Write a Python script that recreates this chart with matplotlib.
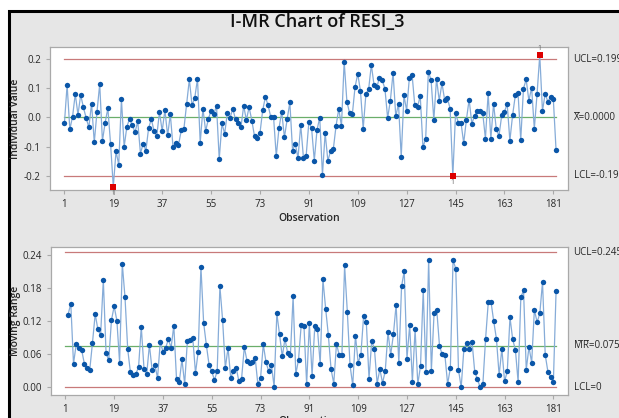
import numpy as np
import matplotlib
matplotlib.use("Agg")
import matplotlib.pyplot as plt
from matplotlib.patches import Rectangle

plt.rcParams['font.family'] = ['Open Sans', 'DejaVu Sans']

# ---- data ----
individual_values = [
    -0.021, 0.111, -0.041, 0.002, 0.080, 0.009, 0.077, 0.034, -0.002, -0.034,
    0.047, -0.086, 0.019, 0.114, -0.081, -0.018, 0.031, -0.091, -0.238, -0.117,
    -0.162, 0.062, -0.101, -0.032, -0.005, -0.027, -0.051, -0.014, -0.124, -0.090,
    -0.114, -0.037, -0.006, -0.047, -0.064, 0.018, -0.047, 0.025, -0.062, 0.010,
    -0.102, -0.087, -0.096, -0.045, -0.039, 0.045, 0.130, 0.041, 0.067, 0.132,
    -0.087, 0.030, -0.047, -0.006, 0.023, 0.010, 0.040, -0.143, -0.021, -0.056,
    0.016, -0.001, 0.029, -0.007, -0.018, -0.034, 0.039, -0.009, 0.035, -0.011,
    -0.065, -0.071, -0.054, 0.024, 0.070, 0.041, 0.000, 0.001, -0.133, -0.037,
    0.019, -0.069, -0.007, 0.051, -0.114, -0.090, -0.140, -0.026, -0.138, -0.132,
    -0.016, -0.037, -0.148, -0.043, -0.001, -0.197, -0.054, -0.149, -0.116, -0.109,
    -0.030, 0.029, -0.030, 0.191, 0.054, 0.014, 0.010, 0.104, 0.149, 0.090,
    -0.039, 0.080, 0.096, 0.180, 0.110, 0.103, 0.136, 0.128, 0.098, -0.002,
    0.057, 0.153, 0.003, 0.047, -0.136, 0.075, 0.023, 0.136, 0.146, 0.041,
    0.035, 0.074, -0.102, -0.074, 0.157, 0.127, -0.008, 0.132, 0.057, 0.117,
    0.059, 0.065, 0.030, -0.201, 0.014, -0.018, -0.018, -0.088, -0.008, 0.061,
    -0.022, 0.006, 0.021, 0.021, 0.015, -0.073, 0.082, -0.073, 0.047, -0.041,
    -0.063, 0.007, 0.018, 0.047, -0.080, 0.007, 0.075, 0.085, -0.078, 0.098,
    0.130, 0.057, 0.102, -0.039, 0.079, 0.213, 0.022, 0.081, 0.053, 0.071,
    0.062, -0.112,
]
x_ticks = [1, 19, 37, 55, 73, 91, 109, 127, 145, 163, 181]
i_yticks = [-0.2, -0.1, 0.0, 0.1, 0.2]
i_ytick_labels = ["-0.2", "-0.1", "0.0", "0.1", "0.2"]
mr_yticks = [0.00, 0.06, 0.12, 0.18, 0.24]
mr_ytick_labels = ["0.00", "0.06", "0.12", "0.18", "0.24"]

i_ucl, i_center, i_lcl = 0.1997, 0.0, -0.1997
mr_ucl, mr_center, mr_lcl = 0.2454, 0.07511, 0.0
i_labels = ["UCL=0.1997", "X\u0305=0.0000", "LCL=-0.1997"]
mr_labels = ["UCL=0.2454", "M\u0305R\u0305=0.07511", "LCL=0"]

title = "I-MR Chart of RESI_3"

# ---- derived ----
obs = np.arange(1, len(individual_values) + 1)
vals = np.array(individual_values)
mr = np.abs(np.diff(vals))          # moving range of span 2
mr_obs = obs[1:]

W, H = 619, 418
fig = plt.figure(figsize=(W / 100, H / 100), dpi=100)
fig.patch.set_facecolor("white")

# background axes: grey panel with black frame
bg = fig.add_axes([0, 0, 1, 1], zorder=-10)
bg.set_xlim(0, W)
bg.set_ylim(H, 0)
bg.axis("off")
bg.add_patch(Rectangle((9, 11), W + 20, H + 20, facecolor="#e6e6e6", edgecolor="black", linewidth=2.2))

def px_axes(left, top, right, bottom):
    return fig.add_axes([left / W, 1 - bottom / H, (right - left) / W, (bottom - top) / H])

BLUE = "#0a56a8"
LINE = "#86acd8"
RED_LINE = "#c87a7a"
GREEN = "#6aae6a"
SPINE = "#a9a9a9"
TXT = "#262626"

def style(ax):
    ax.set_facecolor("white")
    for s in ax.spines.values():
        s.set_color(SPINE)
        s.set_linewidth(0.9)
    ax.tick_params(axis="both", colors=SPINE, labelcolor=TXT, labelsize=7, length=3, width=0.8)
    ax.set_xticks(x_ticks)
    ax.set_xticklabels([str(t) for t in x_ticks])
    ax.set_xlim(-4.3, 186.4)

# ---- Individual chart ----
ax1 = px_axes(50, 47, 568, 190)
style(ax1)
ax1.set_ylim(-0.249, 0.241)
ax1.set_yticks(i_yticks)
ax1.set_yticklabels(i_ytick_labels)
for yv, col in [(i_ucl, RED_LINE), (i_lcl, RED_LINE), (i_center, GREEN)]:
    ax1.plot([obs[0], obs[-1]], [yv, yv], color=col, lw=0.9, zorder=1)
ax1.plot(obs, vals, color=LINE, lw=0.9, zorder=2)
out = (vals > i_ucl) | (vals < i_lcl)
ax1.scatter(obs[~out], vals[~out], s=15, color=BLUE, zorder=3, linewidths=0)
ax1.scatter(obs[out], vals[out], s=17, marker="s", color="#dd0000", zorder=4, linewidths=0)
for xo, yo in zip(obs[out], vals[out]):
    off = 0.022 if yo > 0 else -0.022
    ax1.text(xo, yo + off, "1", fontsize=5, color="#666666", ha="center", va="center", zorder=4)
ax1.set_ylabel("Individual Value", fontsize=7.5, color=TXT, fontweight="semibold")
ax1.yaxis.set_label_coords((21 - 50) / 518, 0.5)
ax1.set_xlabel("Observation", fontsize=7.5, color=TXT, labelpad=2, fontweight="semibold")
for yv, lab in zip([i_ucl, i_center, i_lcl], i_labels):
    ax1.annotate(lab, xy=(1.0, yv), xycoords=("axes fraction", "data"), xytext=(4, 0),
                 textcoords="offset points", fontsize=7, color=TXT, va="center", ha="left",
                 annotation_clip=False)

# ---- Moving range chart ----
ax2 = px_axes(51, 247, 568, 395)
style(ax2)
ax2.set_ylim(-0.0138, 0.2545)
ax2.set_yticks(mr_yticks)
ax2.set_yticklabels(mr_ytick_labels)
for yv, col in [(mr_ucl, RED_LINE), (mr_lcl, RED_LINE), (mr_center, GREEN)]:
    ax2.plot([obs[0], obs[-1]], [yv, yv], color=col, lw=0.9, zorder=1)
ax2.plot(mr_obs, mr, color=LINE, lw=0.9, zorder=2)
ax2.scatter(mr_obs, mr, s=15, color=BLUE, zorder=3, linewidths=0)
ax2.set_ylabel("Moving Range", fontsize=7.5, color=TXT, fontweight="semibold")
ax2.yaxis.set_label_coords((21 - 51) / 517, 0.5)
ax2.set_xlabel("Observation", fontsize=7.5, color=TXT, labelpad=0.5, fontweight="semibold")
for yv, lab in zip([mr_ucl, mr_center, mr_lcl], mr_labels):
    ax2.annotate(lab, xy=(1.0, yv), xycoords=("axes fraction", "data"), xytext=(4, 0),
                 textcoords="offset points", fontsize=7, color=TXT, va="center", ha="left",
                 annotation_clip=False)

fig.text(317 / W, 1 - 22 / H, title, fontsize=13, color="#111111", ha="center", va="center",
         fontweight="semibold")

fig.savefig("out.png", dpi=100)
